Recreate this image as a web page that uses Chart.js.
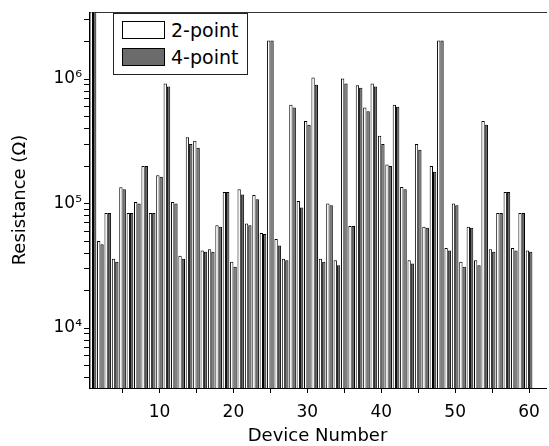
<!DOCTYPE html>
<html>
<head>
<meta charset="utf-8">
<script src="https://cdn.jsdelivr.net/npm/chart.js@4"></script>
<style>
  body { margin: 0; background: #fff; }
  #wrap { position: relative; width: 549px; height: 446px; }
  #legend {
    position: absolute; left: 113px; top: 13px; width: 133px; height: 60px;
    border: 1px solid #222; background: #fff;
    font-family: "DejaVu Sans", sans-serif; font-size: 19px; color: #000;
  }
  .item { position: absolute; left: 8px; height: 18px; line-height: 18px; white-space: nowrap; }
  .sw { display: inline-block; width: 41px; height: 16px; border: 1px solid #000; vertical-align: top; margin-right: 6px; }
</style>
</head>
<body>
<div id="wrap">
  <canvas id="resChart" width="549" height="446"></canvas>
  <div id="legend"></div>
</div>
<script>
// device numbers and measured resistance (ohm)
const devices = [];
for (let i = 1; i <= 60; i++) devices.push(i);

const twoPoint = [
  3.5e6, 5.0e4, 8.4e4, 3.6e4, 1.35e5, 8.4e4, 1.03e5, 2.0e5, 8.4e4, 1.69e5,
  9.2e5, 1.03e5, 3.8e4, 3.4e5, 3.2e5, 4.2e4, 4.3e4, 6.7e4, 1.24e5, 3.4e4,
  1.3e5, 6.9e4, 1.17e5, 5.8e4, 2.04e6, 5.2e4, 3.6e4, 6.2e5, 1.05e5, 4.6e5,
  1.03e6, 3.6e4, 1.0e5, 3.5e4, 1.01e6, 6.6e4, 8.9e5, 5.9e5, 9.2e5, 3.5e5,
  2.06e5, 6.2e5, 1.36e5, 3.5e4, 3.0e5, 6.5e4, 2.0e5, 2.04e6, 4.4e4, 1.0e5,
  3.4e4, 6.5e4, 3.5e4, 4.6e5, 4.3e4, 8.4e4, 1.24e5, 4.4e4, 8.4e4, 4.2e4
];
const fourPoint = [
  3.5e6, 4.7e4, 8.4e4, 3.4e4, 1.3e5, 8.4e4, 1.0e5, 2.0e5, 8.4e4, 1.64e5,
  8.7e5, 1.0e5, 3.6e4, 3.0e5, 2.8e5, 4.1e4, 4.1e4, 6.5e4, 1.24e5, 3.1e4,
  1.18e5, 6.7e4, 1.08e5, 5.7e4, 2.04e6, 4.6e4, 3.5e4, 5.9e5, 9.3e4, 4.3e5,
  9.0e5, 3.4e4, 9.7e4, 3.2e4, 9.2e5, 6.6e4, 8.5e5, 5.5e5, 8.7e5, 3.0e5,
  2.0e5, 6.0e5, 1.3e5, 3.3e4, 2.7e5, 6.4e4, 1.8e5, 2.04e6, 4.2e4, 9.7e4,
  3.1e4, 6.4e4, 3.2e4, 4.3e5, 4.1e4, 8.4e4, 1.24e5, 4.2e4, 8.4e4, 4.1e4
];

const xTicks = [5, 10, 15, 20, 25, 30, 35, 40, 45, 50, 55, 60];
const yTicks = [
  4e3, 5e3, 6e3, 7e3, 8e3, 9e3,
  1e4, 2e4, 3e4, 4e4, 5e4, 6e4, 7e4, 8e4, 9e4,
  1e5, 2e5, 3e5, 4e5, 5e5, 6e5, 7e5, 8e5, 9e5,
  1e6, 2e6, 3e6
];

const sup = { '3': '³', '4': '⁴', '5': '⁵', '6': '⁶', '7': '⁷' };
const font = "'DejaVu Sans', sans-serif";

const datasets = [
  { label: '2-point', data: devices.map((d, i) => ({ x: d, y: twoPoint[i] })),
    backgroundColor: '#ffffff', borderColor: '#000', borderWidth: 1 },
  { label: '4-point', data: devices.map((d, i) => ({ x: d, y: fourPoint[i] })),
    backgroundColor: '#6b6b6b', borderColor: '#000', borderWidth: 1 }
];

const chart = new Chart(document.getElementById('resChart'), {
  type: 'bar',
  data: { datasets: datasets },
  options: {
    responsive: false,
    animation: false,
    layout: { padding: { top: 10, right: 0, left: 0, bottom: 0 } },
    categoryPercentage: 0.9,
    barPercentage: 1.0,
    plugins: { legend: { display: false }, tooltip: { enabled: false } },
    scales: {
      x: {
        type: 'linear', min: 0.46, max: 62.3, offset: false,
        grid: { offset: false, drawOnChartArea: false, drawTicks: true, tickLength: 5, color: '#000' },
        border: { color: '#000', width: 1 },
        afterBuildTicks: s => { s.ticks = xTicks.map(v => ({ value: v })); },
        afterFit: s => { s.height = 58; },
        ticks: {
          padding: 9, maxRotation: 0, autoSkip: false, color: '#000',
          font: { family: font, size: 17 },
          callback: v => (v % 10 === 0 ? String(v) : '')
        },
        title: { display: true, text: 'Device Number', color: '#000',
                 font: { family: font, size: 18 }, padding: { top: 0, bottom: -1 } }
      },
      xTop: {
        type: 'linear', position: 'top', min: 0.46, max: 62.3,
        grid: { drawOnChartArea: false, drawTicks: false },
        border: { color: '#333', width: 1 },
        ticks: { display: false },
        afterFit: s => { s.height = 0; }
      },
      y: {
        type: 'logarithmic', min: 3.3e3, max: 3.44e6,
        grid: { drawOnChartArea: false, drawTicks: true, tickLength: 5, color: '#000' },
        border: { color: '#000', width: 1 },
        afterBuildTicks: s => { s.ticks = yTicks.map(v => ({ value: v })); },
        afterFit: s => { s.width = 89; },
        ticks: {
          padding: 2, autoSkip: false, color: '#000',
          font: { family: font, size: 17 },
          callback: v => {
            const e = Math.round(Math.log10(v));
            return Math.abs(v - Math.pow(10, e)) < 1e-6 * v ? '10' + sup[String(e)] : '';
          }
        },
        title: { display: true, text: 'Resistance (Ω)', color: '#000',
                 font: { family: font, size: 18 }, padding: { top: 10, bottom: 0 } }
      }
    }
  }
});

// legend box drawn from the dataset settings
const legend = document.getElementById('legend');
chart.data.datasets.forEach((ds, i) => {
  const item = document.createElement('div');
  item.className = 'item';
  item.style.top = (7 + i * 27) + 'px';
  const sw = document.createElement('span');
  sw.className = 'sw';
  sw.style.background = ds.backgroundColor;
  item.appendChild(sw);
  item.appendChild(document.createTextNode(ds.label));
  legend.appendChild(item);
});
</script>
</body>
</html>
